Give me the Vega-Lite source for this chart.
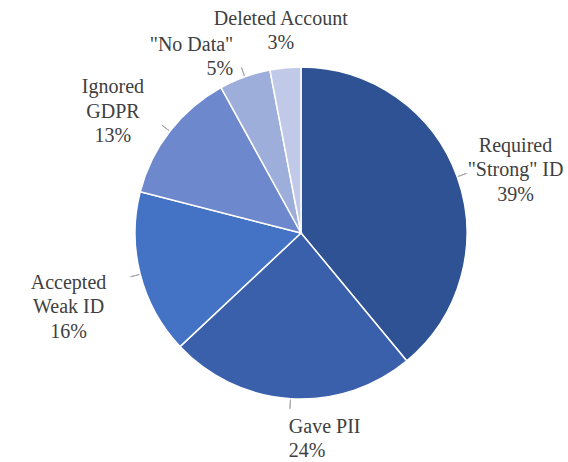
{
  "$schema": "https://vega.github.io/schema/vega-lite/v6.json",
  "width": 534,
  "height": 458,
  "autosize": "none",
  "padding": {"left": 34, "right": 0, "top": 4, "bottom": 0},
  "background": "white",
  "view": {"stroke": null},
  "config": {"text": {"font": "Liberation Serif", "fontSize": 20, "lineHeight": 24.5, "color": "#404040"}},
  "data": {
    "values": [
      {"order": 1, "category": "Required\n\"Strong\" ID", "value": 39},
      {"order": 2, "category": "Gave PII", "value": 24},
      {"order": 3, "category": "Accepted\nWeak ID", "value": 16},
      {"order": 4, "category": "Ignored\nGDPR", "value": 13},
      {"order": 5, "category": "\"No Data\"", "value": 5},
      {"order": 6, "category": "Deleted Account", "value": 3}
    ]
  },
  "transform": [
    {"calculate": "datum.category + '\\n' + datum.value + '%'", "as": "label"},
    {"window": [{"op": "sum", "field": "value", "as": "cum"}], "sort": [{"field": "order"}], "frame": [null, 0]},
    {"calculate": "datum.cum - datum.value / 2", "as": "mid"}
  ],
  "layer": [
    {
      "mark": {"type": "arc", "outerRadius": 166, "stroke": "white", "strokeWidth": 1.5},
      "encoding": {
        "theta": {"field": "value", "type": "quantitative", "stack": true, "scale": {"domain": [0, 100]}},
        "order": {"field": "order", "type": "ordinal", "sort": "ascending"},
        "color": {
          "field": "category",
          "type": "nominal",
          "legend": null,
          "sort": {"field": "order"},
          "scale": {"range": ["#2F5294", "#3A60AC", "#4472C4", "#6E88CD", "#9EAEDB", "#C0C9E7"]}
        }
      }
    },
    {
      "transform": [{"filter": "datum.order <= 5"}],
      "mark": {"type": "arc", "stroke": "#A6A6A6", "strokeWidth": 1, "fill": null},
      "encoding": {
        "theta": {"field": "mid", "type": "quantitative", "stack": null},
        "theta2": {"field": "mid"},
        "radius": {"value": 167},
        "radius2": {"value": 176}
      }
    },
    {
      "transform": [{"filter": "datum.order == 1"}],
      "mark": {"type": "text", "lineBreak": "\n", "align": "center", "baseline": "bottom"},
      "encoding": {
        "theta": {"field": "mid", "type": "quantitative", "stack": null},
        "radius": {"value": 228},
        "text": {"field": "label", "type": "nominal"}
      }
    },
    {
      "transform": [{"filter": "datum.order == 3"}],
      "mark": {"type": "text", "lineBreak": "\n", "align": "center", "baseline": "bottom"},
      "encoding": {
        "theta": {"field": "mid", "type": "quantitative", "stack": null},
        "radius": {"value": 240},
        "text": {"field": "label", "type": "nominal"}
      }
    },
    {
      "transform": [{"filter": "datum.order == 4"}],
      "mark": {"type": "text", "lineBreak": "\n", "align": "center", "baseline": "middle"},
      "encoding": {
        "theta": {"field": "mid", "type": "quantitative", "stack": null},
        "radius": {"value": 238},
        "text": {"field": "label", "type": "nominal"}
      }
    },
    {
      "transform": [{"filter": "datum.order == 2"}],
      "mark": {"type": "text", "lineBreak": "\n", "align": "left", "baseline": "middle"},
      "encoding": {
        "theta": {"field": "mid", "type": "quantitative", "stack": null},
        "radius": {"value": 194},
        "text": {"field": "label", "type": "nominal"}
      }
    },
    {
      "transform": [{"filter": "datum.order == 5"}],
      "mark": {"type": "text", "lineBreak": "\n", "align": "right", "baseline": "middle"},
      "encoding": {
        "theta": {"field": "mid", "type": "quantitative", "stack": null},
        "radius": {"value": 200},
        "text": {"field": "label", "type": "nominal"}
      }
    },
    {
      "transform": [{"filter": "datum.order == 6"}],
      "mark": {"type": "text", "lineBreak": "\n", "align": "center", "baseline": "middle"},
      "encoding": {
        "theta": {"field": "mid", "type": "quantitative", "stack": null},
        "radius": {"value": 215},
        "text": {"field": "label", "type": "nominal"}
      }
    }
  ]
}
